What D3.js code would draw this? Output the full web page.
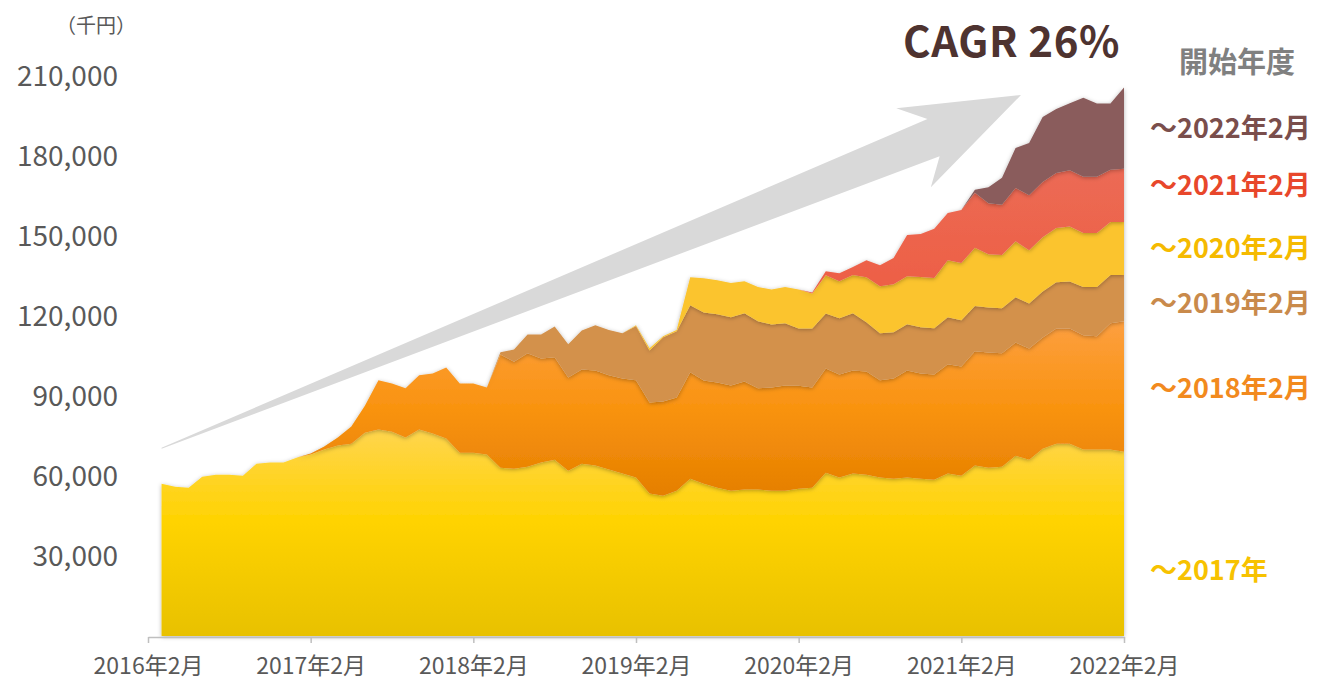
<!DOCTYPE html>
<html>
<head>
<meta charset="utf-8">
<script src="https://cdn.jsdelivr.net/npm/d3@7"></script>
<style>
  body { margin: 0; background: #fff; }
  svg { display: block; }
  text { font-family: "Noto Sans CJK JP", "Noto Sans", sans-serif; }
</style>
</head>
<body>
<div id="chart"></div>
<script>
// ---- データ（単位：千円）----
// 月のインデックス：2016年2月 = 0 ... 2022年2月 = 72
var xTickMonths = [0, 12, 24, 36, 48, 60, 72];
var xTickLabels = ["2016年2月", "2017年2月", "2018年2月", "2019年2月", "2020年2月", "2021年2月", "2022年2月"];
var yTicks = [30000, 60000, 90000, 120000, 150000, 180000, 210000];

var seriesNames = ["～2017年", "～2018年2月", "～2019年2月", "～2020年2月", "～2021年2月", "～2022年2月"];
// 各系列の最初の月
var seriesStart = [1, 12, 26, 36, 49, 61];

var s2017 = [
  57000, 55900, 55500, 59600, 60400, 60400, 60000, 64500, 64900, 64900, 66800, 67900,
  69800, 71300, 72000, 76100, 77300, 76500, 74300, 77300, 75800, 73900, 68600, 68600,
  67900, 63000, 62600, 63400, 64900, 66000, 61900, 64500, 63800, 62300, 60800, 59300,
  53300, 52500, 54400, 58900, 57000, 55500, 54400, 54800, 54800, 54400, 54400, 55100,
  55500, 61100, 59300, 60800, 60400, 59300, 58900, 59300, 58900, 58500, 60800, 60000,
  63800, 63000, 63400, 67500, 66000, 70100, 72000, 72000, 69800, 69800, 69800, 69000
];
var s2018 = [
  400,
  1100, 3000, 6400, 10100, 18400, 18000, 18400, 20300, 22500, 26600, 25900, 25900,
  25100, 42400, 40100, 42400, 39000, 38300, 34900, 35300, 35600, 35300, 35600, 36400,
  34100, 35300, 34900, 39800, 38600, 39400, 39400, 40500, 37900, 38600, 39400, 38600,
  37500, 39000, 38600, 38600, 38600, 36400, 37500, 40100, 39400, 39400, 40900, 40900,
  42800, 43100, 42400, 42400, 41600, 41600, 43100, 43100, 42800, 42400, 47300, 48800
];
var s2019 = [
  800, 4500, 7100, 9000, 11600, 12400, 14600, 16900, 16900, 16900, 20300,
  19500, 24000, 24800, 25100, 25500, 25500, 25500, 25500, 25100, 23600, 23300, 21400,
  22100, 20600, 21000, 21400, 18400, 17600, 17300, 17300, 17300, 17300, 17600, 17300,
  16900, 16900, 16900, 16900, 16900, 17300, 17300, 17600, 18000, 18400, 18000, 17300
];
var s2020 = [
  300,
  800, 400, 400, 10500, 12800, 12800, 12800, 12000, 12800, 13100, 13500, 14600,
  13100, 14300, 13900, 14300, 16900, 17600, 18000, 18000, 18800, 18800, 21400, 21400,
  21800, 19900, 19900, 21000, 19900, 20300, 20300, 20600, 20300, 20300, 19900, 19900
];
var s2021 = [
  400, 1500, 3000, 3000, 6400, 7900, 9800, 15400, 16100, 18400, 17600, 19900,
  20600, 19100, 18800, 19900, 20600, 20600, 20600, 21000, 21000, 21000, 19500, 19900
];
var s2022 = [
  1100, 6000, 10100, 15000, 19500, 24400, 24000, 25100, 29600, 27400, 24800, 30400
];

// 矢印（月インデックス, 千円）
var arrowPts = [
  [1.0, 70500], [57.5, 193500], [55.2, 197600], [64.4, 202500],
  [57.75, 168000], [58.4, 179600], [1.0, 70100]
];

var seriesValues = [s2017, s2018, s2019, s2020, s2021, s2022];

// ---- レイアウト ----
var width = 1317, height = 683;
var x = d3.scaleLinear().domain([0, 72]).range([148, 1124]);
var y = d3.scaleLinear().domain([0, 210000]).range([636, 75]);

var labelColors = ["#F7C200", "#F28A1E", "#C98A4B", "#F5BA00", "#E8472B", "#7A4E4C"];
var labelY = [570, 388, 303, 248, 185, 128];

var svg = d3.select("#chart").append("svg")
  .attr("width", width)
  .attr("height", height);

var defs = svg.append("defs");

// グラデーション
function addGradient(id, stops) {
  var g = defs.append("linearGradient")
    .attr("id", id)
    .attr("x1", 0).attr("y1", 0).attr("x2", 0).attr("y2", 1);
  stops.forEach(function(s) {
    g.append("stop").attr("offset", s[0]).attr("stop-color", s[1]);
  });
}
addGradient("g0", [[0, "#FFD54E"], [0.45, "#FFD300"], [1, "#E8C100"]]);
addGradient("g1", [[0, "#FD9F40"], [0.5, "#F9930F"], [1, "#E57F00"]]);
addGradient("g5", [[0, "#EC6A55"], [1, "#EF4E2B"]]);

var fills = ["url(#g0)", "url(#g1)", "#D3914B", "#FBC42F", "url(#g5)", "#8A5C5B"];

var filter = defs.append("filter")
  .attr("id", "shadow")
  .attr("x", "-5%").attr("y", "-10%")
  .attr("width", "110%").attr("height", "120%");
filter.append("feDropShadow")
  .attr("dx", 0).attr("dy", 1)
  .attr("stdDeviation", 2)
  .attr("flood-color", "#000")
  .attr("flood-opacity", 0.3);

// 積み上げ用のテーブル
var table = [];
for (var m = 1; m <= 72; m++) {
  var row = { m: m };
  seriesValues.forEach(function(vals, k) {
    var idx = m - seriesStart[k];
    row["s" + k] = (idx >= 0 && idx < vals.length) ? vals[idx] : 0;
  });
  table.push(row);
}

var keys = seriesNames.map(function(d, k) { return "s" + k; });
var stacked = d3.stack().keys(keys)(table);

// 矢印
svg.append("path")
  .attr("d", d3.line()
    .x(function(d) { return x(d[0]); })
    .y(function(d) { return y(d[1]); })(arrowPts) + "Z")
  .attr("fill", "#D9D9D9");

// 面グラフ
var area = d3.area()
  .x(function(d) { return x(d.data.m); })
  .y0(function(d) { return y(d[0]); })
  .y1(function(d) { return y(d[1]); });

svg.append("g")
  .selectAll("path")
  .data(stacked)
  .enter()
  .append("path")
  .attr("d", area)
  .attr("fill", function(d, k) { return fills[k]; })
  .attr("filter", "url(#shadow)");

// X軸
var xAxis = svg.append("g")
  .attr("transform", "translate(0,637)")
  .call(d3.axisBottom(x)
    .tickValues(xTickMonths)
    .tickSize(6)
    .tickSizeOuter(0)
    .tickFormat(function(d, i) { return xTickLabels[i]; }));
xAxis.select(".domain").attr("stroke", "#BFBFBF").attr("stroke-width", 1.5);
xAxis.selectAll(".tick line").attr("stroke", "#BFBFBF").attr("stroke-width", 1.5);
xAxis.selectAll(".tick text")
  .attr("y", 37)
  .attr("dy", 0)
  .attr("fill", "#595959")
  .style("font-size", "23px")
  .style("font-family", "\"Noto Sans CJK JP\", sans-serif");

// Y軸（ラベルのみ）
var yAxis = svg.append("g")
  .attr("transform", "translate(118,0)")
  .call(d3.axisLeft(y)
    .tickValues(yTicks)
    .tickSize(0)
    .tickPadding(0)
    .tickFormat(d3.format(",")));
yAxis.select(".domain").remove();
yAxis.selectAll(".tick text")
  .attr("dy", "0.36em")
  .attr("fill", "#595959")
  .style("font-size", "28px")
  .style("font-family", "\"Noto Sans CJK JP\", sans-serif");

// 単位
svg.append("text")
  .attr("x", 56)
  .attr("y", 33)
  .attr("fill", "#595959")
  .style("font-size", "20px")
  .text("（千円）");

// CAGR
svg.append("text")
  .attr("x", 903)
  .attr("y", 57)
  .attr("fill", "#4E3330")
  .style("font-size", "42px")
  .style("font-weight", "bold")
  .style("letter-spacing", "0.6px")
  .text("CAGR 26%");

// 凡例タイトル
svg.append("text")
  .attr("x", 1179)
  .attr("y", 73)
  .attr("fill", "#808080")
  .style("font-size", "29px")
  .style("font-weight", "bold")
  .text("開始年度");

// 凡例ラベル
svg.append("g")
  .selectAll("text")
  .data(seriesNames)
  .enter()
  .append("text")
  .attr("x", 1150)
  .attr("y", function(d, k) { return labelY[k]; })
  .attr("dy", "0.36em")
  .attr("fill", function(d, k) { return labelColors[k]; })
  .style("font-size", "27px")
  .style("font-weight", "bold")
  .text(function(d) { return d; });
</script>
</body>
</html>
